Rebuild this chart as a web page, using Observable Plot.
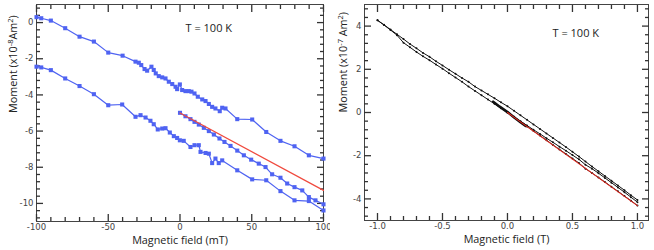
<!DOCTYPE html>
<html><head><meta charset="utf-8">
<script src="https://cdn.jsdelivr.net/npm/d3@7"></script>
<script src="https://cdn.jsdelivr.net/npm/@observablehq/plot@0.6"></script>
<style>
body{margin:0;background:#fff;}
#wrap{display:flex;width:654px;height:250px;overflow:hidden;}
</style></head><body><div id="wrap"></div>
<script>
// ---------- Left panel: field in mT, moment in x10^-8 Am^2 ----------
const upperField = [-100,-96.7,-90,-80,-70,-60,-50,-40,-31,-28.7,-27,-24.7,-22.9,-19.9,-18.3,-16.9,-14.8,-12.4,-10.1,-7.8,-5.4,-3.1,-2,-0.1,1.5,3.8,6.1,8,10.1,12.4,15.5,17.8,20.1,22.4,24.7,27.7,29.4,31.7,39.9,50.3,60.1,70,79.8,89.8,100];
const upperMoment = [0.3,0.24,0.11,-0.31,-0.78,-1.05,-1.66,-1.83,-2.16,-2.22,-2.35,-2.57,-2.66,-2.44,-2.62,-2.81,-2.96,-3.03,-3.09,-3.27,-3.4,-3.55,-3.68,-3.42,-3.73,-3.79,-3.79,-3.82,-3.92,-4.1,-4.25,-4.34,-4.5,-4.66,-4.75,-4.9,-4.71,-4.75,-5.34,-5.36,-6.05,-6.54,-6.84,-7.34,-7.52];
const initField = [0,3.8,7.3,10.1,13.1,16.6,20.1,23.6,27.5,31,35.2,39.9,44.5,49.6,54.9,59.6,64.2,70,74.7,79.8,85.2,89.8,94.4,100];
const initMoment = [-4.99,-5.18,-5.34,-5.49,-5.64,-5.82,-6.0,-6.19,-6.41,-6.6,-6.82,-7.08,-7.34,-7.58,-7.8,-7.99,-8.39,-8.58,-8.9,-9.1,-9.28,-9.65,-9.83,-10.05];
const lowerField = [-100,-96.7,-90,-80,-70,-60,-50,-40.3,-31,-27.5,-24,-20.6,-18.3,-15.5,-12.4,-10.1,-7.1,-4.3,-2,-0.1,2.6,7.3,10.1,13.1,14.3,17.8,20.1,22.4,24.7,27,29.4,39.9,50.3,60.1,70,79.8,89.8,100];
const lowerMoment = [-2.44,-2.48,-2.63,-3.09,-3.51,-3.96,-4.57,-4.53,-5.21,-5.12,-5.25,-5.43,-5.62,-5.91,-5.86,-5.84,-6.08,-6.28,-6.38,-6.51,-6.54,-6.88,-6.78,-6.78,-7.15,-7.21,-7.25,-7.77,-7.52,-7.77,-7.62,-8.17,-8.67,-8.72,-9.32,-9.83,-9.87,-10.39];
const fitField_mT = [0, 100];
const fitMoment_mT = [-5.0, -9.28];

const xMajor_mT = [-100,-50,0,50,100];
const xMinor_mT = [-90,-80,-70,-60,-40,-30,-20,-10,10,20,30,40,60,70,80,90];
const yMajor_L = [-10,-8,-6,-4,-2,0];
const yMinor_L = [-10.8,-10.4,-9.6,-9.2,-8.8,-8.4,-7.6,-7.2,-6.8,-6.4,-5.6,-5.2,-4.8,-4.4,-3.6,-3.2,-2.8,-2.4,-1.6,-1.2,-0.8,-0.4,0.4,0.8];

// ---------- Right panel: field in T, moment in x10^-7 Am^2 ----------
const branchField = [-1.0,-0.95,-0.9,-0.85,-0.8,-0.75,-0.7,-0.65,-0.6,-0.55,-0.5,-0.45,-0.4,-0.35,-0.3,-0.25,-0.2,-0.15,-0.1,-0.05,0.0,0.05,0.1,0.15,0.2,0.25,0.3,0.35,0.4,0.45,0.5,0.55,0.6,0.65,0.7,0.75,0.8,0.85,0.9,0.95,1.0];
const descMoment = [4.27,4.06,3.84,3.62,3.40,3.17,2.97,2.76,2.58,2.37,2.18,1.98,1.79,1.60,1.42,1.20,1.02,0.84,0.66,0.47,0.29,0.08,-0.13,-0.34,-0.55,-0.76,-0.97,-1.18,-1.39,-1.60,-1.82,-2.04,-2.27,-2.50,-2.72,-2.94,-3.16,-3.38,-3.60,-3.83,-4.05];
const ascMoment = [4.27,4.05,3.82,3.58,3.23,3.02,2.80,2.60,2.42,2.22,2.03,1.82,1.62,1.42,1.20,1.00,0.80,0.60,0.40,0.20,0.00,-0.20,-0.40,-0.60,-0.80,-0.99,-1.19,-1.38,-1.58,-1.77,-1.97,-2.17,-2.42,-2.60,-2.81,-3.03,-3.25,-3.47,-3.69,-3.92,-4.15];
const virginField = [0,0.05,0.1,0.15,0.2,0.25,0.3,0.35,0.4,0.45,0.5,0.55,0.6,0.65,0.7,0.75,0.8,0.85,0.9,0.95,1.0];
const virginMoment = [0.0,-0.22,-0.44,-0.65,-0.86,-1.07,-1.28,-1.5,-1.71,-1.92,-2.13,-2.34,-2.6,-2.8,-3.01,-3.22,-3.44,-3.65,-3.87,-4.08,-4.31];
const zeroScanField = [-0.11,-0.06,0.0,0.05,0.1,0.14];
const zeroScanMoment = [0.5,0.27,0.02,-0.22,-0.45,-0.62];
const fitField_T = [0, 1];
const fitMoment_T = [0, -4.31];

const xMajor_T = [-1,-0.5,0,0.5,1];
const xMinor_T = [-0.9,-0.8,-0.7,-0.6,-0.4,-0.3,-0.2,-0.1,0.1,0.2,0.3,0.4,0.6,0.7,0.8,0.9];
const yMajor_R = [-4,-2,0,2,4];
const yMinor_R = [-4.8,-4.4,-3.6,-3.2,-2.8,-2.4,-1.6,-1.2,-0.8,-0.4,0.4,0.8,1.2,1.6,2.4,2.8,3.2,3.6,4.4,4.8];

const zipRows = (xs, ys) => xs.map((x, i) => ({x, y: ys[i]}));

const BLUE = "#4f63f2";
const FRAME = "#444";
const TICK = "#333";

// inward ticks on all four frame sides (negative tickSize points into the frame)
function inwardTicks(xMaj, xMin, yMaj, yMin) {
  const o = {tickFormat: () => "", label: null, stroke: TICK, strokeWidth: 1.3};
  return [
    Plot.axisX(xMaj, {...o, anchor: "bottom", tickSize: -7}),
    Plot.axisX(xMin, {...o, anchor: "bottom", tickSize: -4}),
    Plot.axisX(xMaj, {...o, anchor: "top", tickSize: -7}),
    Plot.axisX(xMin, {...o, anchor: "top", tickSize: -4}),
    Plot.axisY(yMaj, {...o, anchor: "left", tickSize: -7}),
    Plot.axisY(yMin, {...o, anchor: "left", tickSize: -4}),
    Plot.axisY(yMaj, {...o, anchor: "right", tickSize: -7}),
    Plot.axisY(yMin, {...o, anchor: "right", tickSize: -4})
  ];
}

const titleFont = {fontFamily: "Open Sans", fill: "#222"};
const tickStyle = {fontFamily: "DejaVu Sans", fontSize: "8.5px", color: "#444", background: "white", overflow: "visible"};

const leftPlot = Plot.plot({
  width: 330, height: 250, marginLeft: 36, marginRight: 7, marginTop: 4, marginBottom: 29,
  x: {domain: [-100, 100]},
  y: {domain: [-11, 1]},
  style: tickStyle,
  marks: [
    Plot.frame({stroke: FRAME}),
    ...inwardTicks(xMajor_mT, xMinor_mT, yMajor_L, yMinor_L),
    Plot.axisX(xMajor_mT, {anchor: "bottom", tickSize: 0, tickPadding: 2, tickFormat: d => String(d), label: null}),
    Plot.axisY(yMajor_L, {anchor: "left", tickSize: 0, tickPadding: 3, tickFormat: d => String(d), label: null}),
    Plot.line(zipRows(upperField, upperMoment), {x: "x", y: "y", stroke: BLUE, strokeWidth: 1.2}),
    Plot.line(zipRows(lowerField, lowerMoment), {x: "x", y: "y", stroke: BLUE, strokeWidth: 1.2}),
    Plot.line(zipRows(initField, initMoment), {x: "x", y: "y", stroke: BLUE, strokeWidth: 1.2}),
    Plot.dot(zipRows(upperField, upperMoment), {x: "x", y: "y", symbol: "square", r: 2.3, fill: BLUE}),
    Plot.dot(zipRows(lowerField, lowerMoment), {x: "x", y: "y", symbol: "square", r: 2.3, fill: BLUE}),
    Plot.dot(zipRows(initField, initMoment), {x: "x", y: "y", symbol: "square", r: 2.3, fill: BLUE}),
    Plot.line(zipRows(fitField_mT, fitMoment_mT), {x: "x", y: "y", stroke: "#f04a3e", strokeWidth: 1.2}),
    Plot.text(["T = 100 K"], {frameAnchor: "top-left", dx: 149, dy: 20, textAnchor: "start", fontSize: 11, ...titleFont}),
    Plot.text(["Magnetic field (mT)"], {frameAnchor: "bottom", dy: 22, fontSize: 10.8, ...titleFont}),
    Plot.text(["@@LEFTY@@"], {frameAnchor: "left", rotate: -90, dx: -23, fontSize: 10.8, ...titleFont})
  ]
});

const rightPlot = Plot.plot({
  width: 324, height: 250, marginLeft: 34, marginRight: 6, marginTop: 4, marginBottom: 30,
  x: {domain: [-1.1, 1.085]},
  y: {domain: [-5, 5]},
  style: tickStyle,
  marks: [
    Plot.frame({stroke: FRAME}),
    ...inwardTicks(xMajor_T, xMinor_T, yMajor_R, yMinor_R),
    Plot.axisX(xMajor_T, {anchor: "bottom", tickSize: 0, tickPadding: 2, tickFormat: d => d.toFixed(1), label: null}),
    Plot.axisY(yMajor_R, {anchor: "left", tickSize: 0, tickPadding: 3, tickFormat: d => String(d), label: null}),
    Plot.line(zipRows(branchField, descMoment), {x: "x", y: "y", stroke: "#111", strokeWidth: 1}),
    Plot.line(zipRows(branchField, ascMoment), {x: "x", y: "y", stroke: "#111", strokeWidth: 1}),
    Plot.line(zipRows(virginField, virginMoment), {x: "x", y: "y", stroke: "#111", strokeWidth: 1}),
    Plot.line(zipRows(zeroScanField, zeroScanMoment), {x: "x", y: "y", stroke: "#111", strokeWidth: 2.6}),
    Plot.dot(zipRows(branchField, descMoment), {x: "x", y: "y", r: 1, fill: "#111"}),
    Plot.dot(zipRows(branchField, ascMoment), {x: "x", y: "y", r: 1, fill: "#111"}),
    Plot.dot(zipRows(virginField, virginMoment), {x: "x", y: "y", r: 1, fill: "#111"}),
    Plot.line(zipRows(fitField_T, fitMoment_T), {x: "x", y: "y", stroke: "#e0281e", strokeWidth: 1.1}),
    Plot.text(["T = 100 K"], {frameAnchor: "top-left", dx: 188, dy: 25, textAnchor: "start", fontSize: 11, ...titleFont}),
    Plot.text(["Magnetic field (T)"], {frameAnchor: "bottom", dy: 22, fontSize: 10.8, ...titleFont}),
    Plot.text(["@@RIGHTY@@"], {frameAnchor: "left", rotate: -90, dx: -21, fontSize: 10.8, ...titleFont})
  ]
});

function superscriptify(svg, placeholder, segments) {
  for (const t of svg.querySelectorAll("text")) {
    if (t.textContent === placeholder) {
      t.textContent = "";
      let shift = 0;
      for (const [s, sup] of segments) {
        const ts = document.createElementNS("http://www.w3.org/2000/svg", "tspan");
        ts.textContent = s;
        const want = sup ? -4 : 0;
        if (want !== shift) { ts.setAttribute("dy", want - shift); shift = want; }
        if (sup) ts.setAttribute("font-size", "7.5");
        t.appendChild(ts);
      }
    }
  }
}
superscriptify(leftPlot, "@@LEFTY@@", [["Moment (x10", false], ["-8", true], ["Am", false], ["2", true], [")", false]]);
superscriptify(rightPlot, "@@RIGHTY@@", [["Moment (x10", false], ["-7", true], [" Am", false], ["2", true], [")", false]]);

const wrap = document.getElementById("wrap");
wrap.appendChild(leftPlot);
wrap.appendChild(rightPlot);
</script>
</body></html>
